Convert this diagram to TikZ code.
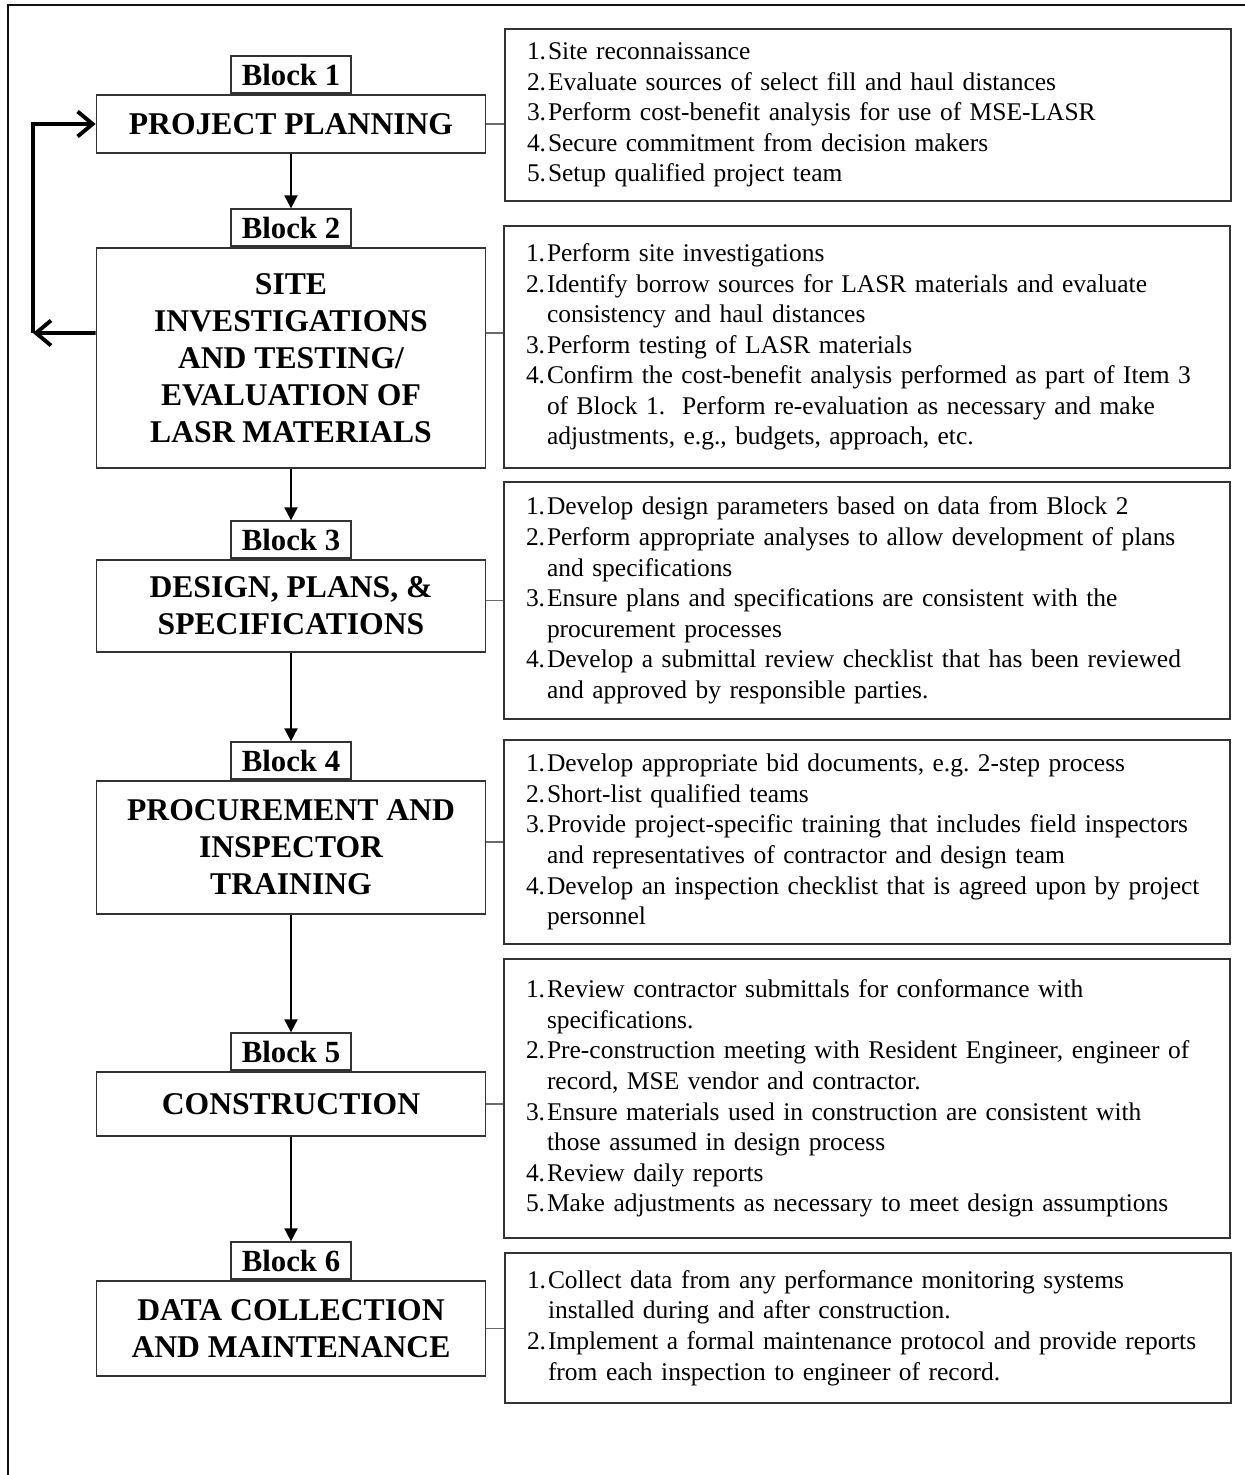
\documentclass[tikz,border=0pt]{standalone}
\usepackage{fontspec}
\setmainfont{Liberation Serif}
\usepackage{tikz}
\usetikzlibrary{arrows.meta,positioning}
\definecolor{FrameInk}{HTML}{111111}
\definecolor{BoxLine}{HTML}{333333}
\definecolor{LinkGray}{HTML}{6A6A6A}

% numbered line and hanging indent for the task lists
\newcommand{\itemno}[1]{\makebox[4.2mm][l]{#1}}
\newcommand{\hang}{\hspace*{4.2mm}}

\begin{document}
\begin{tikzpicture}[
  stage/.style={draw=BoxLine,fill=white,line width=1pt,minimum width=7.78cm,
    align=center,font=\bfseries\fontsize{18}{21}\selectfont},
  tag/.style={draw=BoxLine,fill=white,line width=1pt,minimum width=2.4cm,
    minimum height=0.74cm,inner sep=0pt,font=\bfseries\fontsize{17.5}{20}\selectfont},
  tasks/.style={draw=BoxLine,fill=white,line width=1pt,minimum width=14.52cm,
    inner xsep=0.44cm,text width=13.64cm,align=left,
    font=\fontsize{14.5}{17.4}\selectfont\frenchspacing},
  flow/.style={-{Triangle[length=2.6mm,width=2.6mm]},draw=black,line width=1.1pt},
  link/.style={draw=LinkGray,line width=1.1pt},
  loopback/.style={-{Straight Barb[length=3mm,width=5mm]},draw=black,line width=2.2pt},
  frame/.style={draw=FrameInk,line width=1.7pt}
]
  \useasboundingbox (0,0) rectangle (24.88,-29.5);
  \draw[frame] (0.16,-0.1) rectangle (25.4,-30.2);

  % left column: the six stages
  \node[stage,minimum height=1.16cm] (b1) at (5.82,-2.48) {PROJECT PLANNING};
  \node[stage,minimum height=4.4cm] (b2) at (5.82,-7.16)
    {SITE\\INVESTIGATIONS\\AND TESTING/\\EVALUATION OF\\LASR MATERIALS};
  \node[stage,minimum height=1.84cm] (b3) at (5.82,-12.12) {DESIGN, PLANS, \&\\SPECIFICATIONS};
  \node[stage,minimum height=2.66cm] (b4) at (5.82,-16.95) {PROCUREMENT AND\\INSPECTOR\\TRAINING};
  \node[stage,minimum height=1.28cm] (b5) at (5.82,-22.08) {CONSTRUCTION};
  \node[stage,minimum height=1.9cm] (b6) at (5.82,-26.57) {DATA COLLECTION\\AND MAINTENANCE};

  \foreach \i in {1,...,6}
    \node[tag,above=0pt of b\i] (t\i) {Block \i};

  % right column: what each stage involves
  \node[tasks,minimum height=3.44cm] (r1) at (17.36,-2.30) {%
    \itemno{1.}Site reconnaissance\\
    \itemno{2.}Evaluate sources of select fill and haul distances\\
    \itemno{3.}Perform cost-benefit analysis for use of MSE-LASR\\
    \itemno{4.}Secure commitment from decision makers\\
    \itemno{5.}Setup qualified project team};
  \node[tasks,minimum height=4.84cm] (r2) at (17.34,-6.94) {%
    \itemno{1.}Perform site investigations\\
    \itemno{2.}Identify borrow sources for LASR materials and evaluate\\
    \hang consistency and haul distances\\
    \itemno{3.}Perform testing of LASR materials\\
    \itemno{4.}Confirm the cost-benefit analysis performed as part of Item 3\\
    \hang of Block 1.\ \ Perform re-evaluation as necessary and make\\
    \hang adjustments, e.g., budgets, approach, etc.};
  \node[tasks,minimum height=4.74cm] (r3) at (17.34,-12.01) {%
    \itemno{1.}Develop design parameters based on data from Block 2\\
    \itemno{2.}Perform appropriate analyses to allow development of plans\\
    \hang and specifications\\
    \itemno{3.}Ensure plans and specifications are consistent with the\\
    \hang procurement processes\\
    \itemno{4.}Develop a submittal review checklist that has been reviewed\\
    \hang and approved by responsible parties.};
  \node[tasks,minimum height=4.08cm] (r4) at (17.34,-16.84) {%
    \itemno{1.}Develop appropriate bid documents, e.g. 2-step process\\
    \itemno{2.}Short-list qualified teams\\
    \itemno{3.}Provide project-specific training that includes field inspectors\\
    \hang and representatives of contractor and design team\\
    \itemno{4.}Develop an inspection checklist that is agreed upon by project\\
    \hang personnel};
  \node[tasks,minimum height=5.58cm] (r5) at (17.34,-21.97) {%
    \itemno{1.}Review contractor submittals for conformance with\\
    \hang specifications.\\
    \itemno{2.}Pre-construction meeting with Resident Engineer, engineer of\\
    \hang record, MSE vendor and contractor.\\
    \itemno{3.}Ensure materials used in construction are consistent with\\
    \hang those assumed in design process\\
    \itemno{4.}Review daily reports\\
    \itemno{5.}Make adjustments as necessary to meet design assumptions};
  \node[tasks,minimum height=3.0cm] (r6) at (17.36,-26.56) {%
    \itemno{1.}Collect data from any performance monitoring systems\\
    \hang installed during and after construction.\\
    \itemno{2.}Implement a formal maintenance protocol and provide reports\\
    \hang from each inspection to engineer of record.};

  % stage to stage
  \foreach \i/\j in {1/2,2/3,3/4,4/5,5/6}
    \draw[flow] (b\i.south) -- (t\j.north);

  % stage to its list
  \draw[link] (b1.east) -- (b1.east -| r1.west);
  \draw[link] ([yshift=5mm]b2.east) -- ([yshift=5mm]b2.east -| r2.west);
  \draw[link] (b3.east |- r3.west) -- (r3.west);
  \draw[link] (b4.east |- r4.west) -- (r4.west);
  \draw[link] (b5.east) -- (b5.east -| r5.west);
  \draw[link] (b6.east) -- (b6.east -| r6.west);

  % back to planning
  \coordinate (turn) at (0.66,-6.66);
  \draw[loopback] ([yshift=5mm]b2.west) -- (turn);
  \draw[loopback] (turn) |- (b1.west);
\end{tikzpicture}
\end{document}
